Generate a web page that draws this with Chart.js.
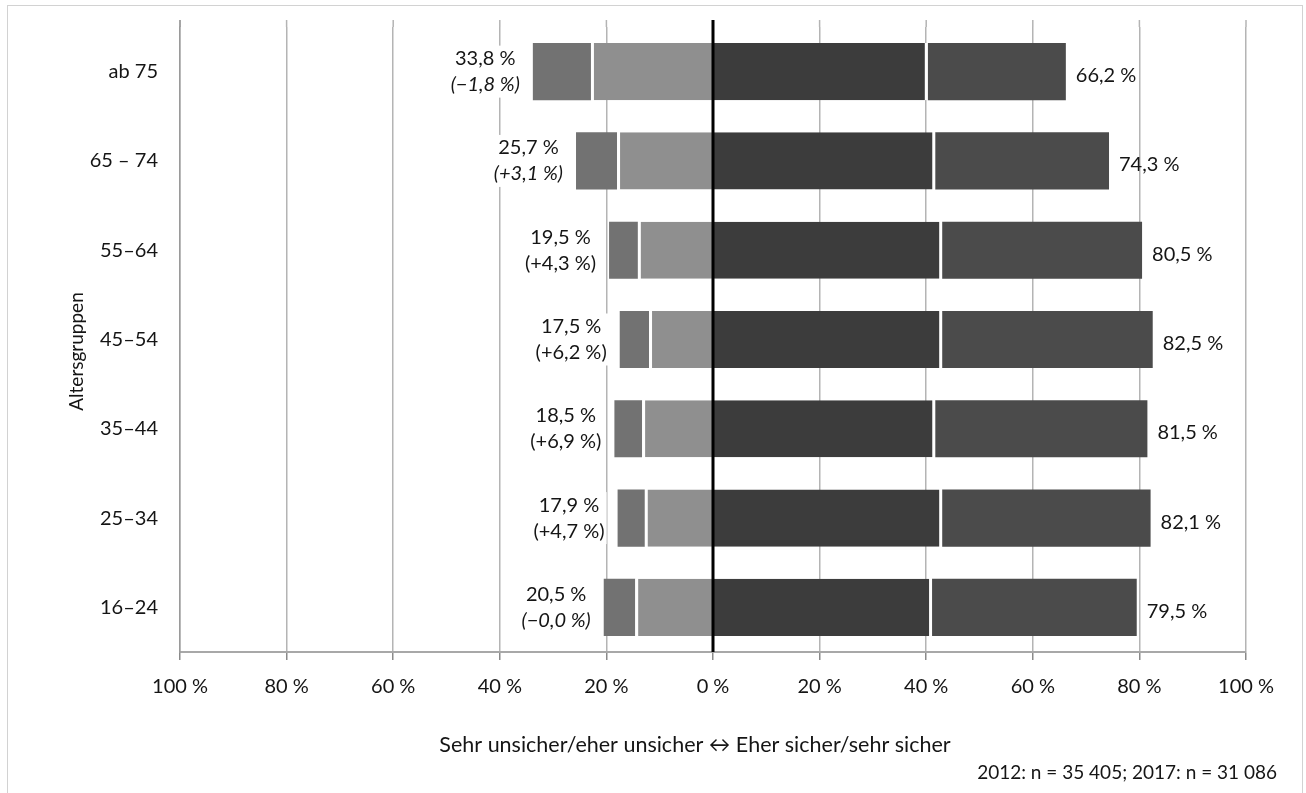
<!DOCTYPE html>
<html>
<head>
<meta charset="utf-8">
<script src="https://cdn.jsdelivr.net/npm/chart.js@4/dist/chart.umd.min.js"></script>
<style>
  html, body { margin: 0; padding: 0; background: #fff; overflow: hidden; }
  #wrap { position: absolute; left: 0; top: 0; width: 1306px; height: 793px; }
  #frame { position: absolute; left: 7px; top: 5px; width: 1294px; height: 800px; border: 1px solid #d2d2d2; pointer-events: none; }
</style>
</head>
<body>
<div id="wrap"><canvas id="c"></canvas></div>
<div id="frame"></div>
<script>
// Categories (top to bottom)
const categories = ['ab 75', '65 – 74', '55–64', '45–54', '35–44', '25–34', '16–24'];
// Negative side (unsicher), in percent
const eherUnsicher = [22.9, 18.0, 14.1, 12.0, 13.3, 12.8, 14.6];
const sehrUnsicher = [10.9, 7.7, 5.4, 5.5, 5.2, 5.1, 5.9];
// Positive side (sicher), in percent
const eherSicher = [40.3, 41.7, 43.0, 43.0, 41.7, 43.0, 41.1];
const sehrSicher = [25.9, 32.6, 37.5, 39.5, 39.8, 39.1, 38.4];
// Printed labels
const unsicherTotals = ['33,8 %', '25,7 %', '19,5 %', '17,5 %', '18,5 %', '17,9 %', '20,5 %'];
const changes = ['(−1,8 %)', '(+3,1 %)', '(+4,3 %)', '(+6,2 %)', '(+6,9 %)', '(+4,7 %)', '(−0,0 %)'];
const changeItalic = [true, true, false, false, false, false, true];
const sicherTotals = ['66,2 %', '74,3 %', '80,5 %', '82,5 %', '81,5 %', '82,1 %', '79,5 %'];
const xTickValues = [-100, -80, -60, -40, -20, 0, 20, 40, 60, 80, 100];
const axisLabel = 'Sehr unsicher/eher unsicher ↔ Eher sicher/sehr sicher';
const sampleNote = '2012: n = 35 405; 2017: n = 31 086';
const yTitle = 'Altersgruppen';

const FONT = 'Lato';
const TEXT = '#151515';
const GRID = '#b4b4b4';
const EXT = 7; // grid lines run a little above the plot area

const overlay = {
  id: 'overlay',
  beforeDatasetsDraw(chart) {
    const ctx = chart.ctx;
    const xs = chart.scales.x;
    const area = chart.chartArea;
    ctx.save();
    ctx.lineWidth = 1.5;
    ctx.strokeStyle = GRID;
    xs.ticks.forEach(t => {
      const px = xs.getPixelForValue(t.value);
      ctx.beginPath();
      ctx.moveTo(px, area.top - EXT);
      ctx.lineTo(px, area.top);
      ctx.stroke();
    });
    ctx.strokeStyle = '#9a9a9a';
    ctx.beginPath();
    ctx.moveTo(area.left, area.top - EXT);
    ctx.lineTo(area.left, area.top);
    ctx.stroke();
    ctx.restore();
  },
  afterDatasetsDraw(chart) {
    const ctx = chart.ctx;
    const xs = chart.scales.x;
    const area = chart.chartArea;
    ctx.save();
    ctx.strokeStyle = '#000';
    ctx.lineWidth = 3;
    const x0 = xs.getPixelForValue(0);
    ctx.beginPath();
    ctx.moveTo(x0, area.top - EXT);
    ctx.lineTo(x0, area.bottom);
    ctx.stroke();

    const outerNeg = chart.getDatasetMeta(1).data;
    const outerPos = chart.getDatasetMeta(3).data;
    ctx.textBaseline = 'middle';
    for (let i = 0; i < categories.length; i++) {
      const nb = outerNeg[i];
      const left = Math.min(nb.x, nb.base);
      const yc = nb.y;
      ctx.font = '20px ' + FONT;
      const w1 = ctx.measureText(unsicherTotals[i]).width;
      ctx.font = (changeItalic[i] ? 'italic ' : '') + '20px ' + FONT;
      const w2 = ctx.measureText(changes[i]).width;
      const bw = Math.max(w1, w2);
      const cx = left - 13 - bw / 2;
      ctx.fillStyle = '#fff';
      ctx.fillRect(cx - bw / 2 - 2, yc - 26, bw + 4, 52);
      ctx.fillStyle = TEXT;
      ctx.textAlign = 'center';
      ctx.font = '20px ' + FONT;
      ctx.fillText(unsicherTotals[i], cx, yc - 13);
      ctx.font = (changeItalic[i] ? 'italic ' : '') + '20px ' + FONT;
      ctx.fillText(changes[i], cx, yc + 13);

      const pb = outerPos[i];
      const right = Math.max(pb.x, pb.base);
      ctx.font = '20px ' + FONT;
      ctx.textAlign = 'left';
      ctx.fillText(sicherTotals[i], right + 10, pb.y + 4);
    }

    ctx.save();
    ctx.translate(77, (area.top + area.bottom) / 2 + 12);
    ctx.rotate(-Math.PI / 2);
    ctx.textAlign = 'center';
    ctx.font = '19px ' + FONT;
    ctx.fillText(yTitle, 0, 0);
    ctx.restore();

    ctx.font = '21.5px ' + FONT;
    ctx.textAlign = 'center';
    ctx.fillText(axisLabel, 695, 745);
    ctx.font = '19px ' + FONT;
    ctx.textAlign = 'right';
    ctx.fillText(sampleNote, 1277, 773);
    ctx.restore();
  }
};

new Chart(document.getElementById('c'), {
  type: 'bar',
  data: {
    labels: categories,
    datasets: [
      { label: 'eher unsicher', data: eherUnsicher.map(v => -v), backgroundColor: '#8f8f8f',
        borderColor: '#ffffff', borderWidth: { left: 3, right: 0, top: 0, bottom: 0 }, borderSkipped: false },
      { label: 'sehr unsicher', data: sehrUnsicher.map(v => -v), backgroundColor: '#727272',
        borderWidth: 0, borderSkipped: false },
      { label: 'eher sicher', data: eherSicher, backgroundColor: '#3c3c3c',
        borderColor: '#ffffff', borderWidth: { left: 0, right: 3, top: 0, bottom: 0 }, borderSkipped: false },
      { label: 'sehr sicher', data: sehrSicher, backgroundColor: '#4b4b4b',
        borderWidth: 0, borderSkipped: false }
    ]
  },
  options: {
    indexAxis: 'y',
    responsive: true,
    maintainAspectRatio: false,
    animation: false,
    datasets: { bar: { barPercentage: 0.64, categoryPercentage: 1.0 } },
    layout: { padding: { left: 0, right: 60, top: 27, bottom: 0 } },
    plugins: { legend: { display: false }, tooltip: { enabled: false } },
    scales: {
      x: {
        stacked: true,
        min: -100, max: 100,
        afterBuildTicks(scale) { scale.ticks = xTickValues.map(v => ({ value: v })); },
        afterFit(scale) { scale.height = 793 - 652; },
        ticks: {
          callback: v => Math.abs(v) + ' %',
          color: TEXT, font: { family: FONT, size: 20 }, padding: 15, maxRotation: 0
        },
        grid: { color: GRID, lineWidth: 1.5, tickLength: 8, tickColor: '#8a8a8a' },
        border: { display: true, color: '#a8a8a8', width: 2 }
      },
      y: {
        stacked: true,
        afterFit(scale) { scale.width = 180; },
        ticks: { color: TEXT, font: { family: FONT, size: 20 }, padding: 14 },
        grid: { display: false },
        border: { display: true, color: '#9a9a9a', width: 1.5 }
      }
    }
  },
  plugins: [overlay]
});
</script>
</body>
</html>
